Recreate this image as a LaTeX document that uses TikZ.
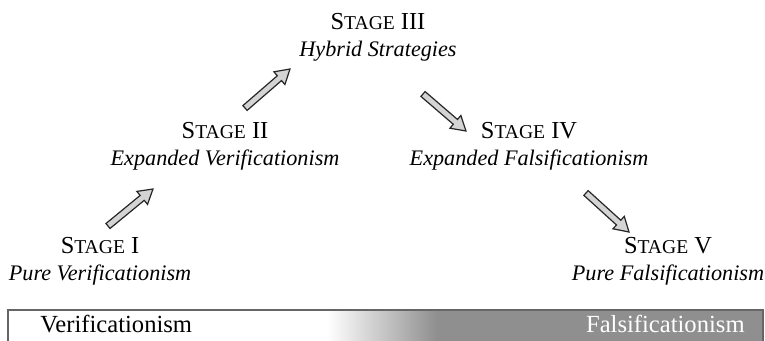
\documentclass[tikz,border=0pt]{standalone}
\usepackage{fontspec}
\setmainfont{Liberation Serif}
\usetikzlibrary{calc}
\definecolor{bargray}{RGB}{142,143,142}
\definecolor{arrfill}{RGB}{212,212,212}
\tikzset{
  stage/.style={align=center, inner sep=0pt, font=\fontsize{11.1}{13.5}\selectfont},
  bartext/.style={inner sep=0pt, font=\fontsize{12.3}{14}\selectfont},
  fatarrow/.style={draw=black!85, fill=arrfill, line width=0.6pt, line join=miter},
}
\newcommand\stagelabel[1]{{\fontsize{12.2}{13.5}\selectfont S{\fontsize{9.8}{10}\selectfont TAGE} #1}}
\newcommand\bigarr[2]{%
  \coordinate (hb) at ($(#2)!7pt!(#1)$);
  \draw[fatarrow] ($(#1)!1.6pt!90:(#2)$) -- ($(hb)!1.6pt!-90:(#1)$) -- ($(hb)!4.2pt!-90:(#1)$) -- (#2)
    -- ($(hb)!4.2pt!90:(#1)$) -- ($(hb)!1.6pt!90:(#1)$) -- ($(#1)!1.6pt!-90:(#2)$) -- cycle;}
\begin{document}
\begin{tikzpicture}[x=0.5pt,y=-0.5pt]
\useasboundingbox (0,0) rectangle (765,341);
% stages
\node[stage] (s3) at (378,37) {\stagelabel{III}\\\textit{Hybrid Strategies}};
\node[stage] (s2) at (225,146) {\stagelabel{II}\\\textit{Expanded Verificationism}};
\node[stage] (s4) at (529,146) {\stagelabel{IV}\\\textit{Expanded Falsificationism}};
\node[stage] (s1) at (100,261) {\stagelabel{I}\\\textit{Pure Verificationism}};
\node[stage] (s5) at (668,261) {\stagelabel{V}\\\textit{Pure Falsificationism}};
% arrows
\coordinate (a1t) at (108,226); \coordinate (a1h) at (153,189);
\coordinate (a2t) at (245,108); \coordinate (a2h) at (290,69);
\coordinate (a3t) at (423,94);  \coordinate (a3h) at (466,131);
\coordinate (a4t) at (586,193); \coordinate (a4h) at (629,232);
\bigarr{a1t}{a1h}
\bigarr{a2t}{a2h}
\bigarr{a3t}{a3h}
\bigarr{a4t}{a4h}
% bottom bar
\fill[white] (8,310) rectangle (327,341);
\shade[left color=white, right color=bargray] (327,310) rectangle (437,341);
\fill[bargray] (437,310) rectangle (763,341);
\draw[black!60, line width=0.6pt] (8,341) -- (8,310) -- (763,310) -- (763,341);
\node[bartext, anchor=base west] (ver) at (40,333) {Verificationism};
\node[bartext, anchor=base east, text=white] (fal) at (745,333) {Falsificationism};
\end{tikzpicture}
\end{document}
